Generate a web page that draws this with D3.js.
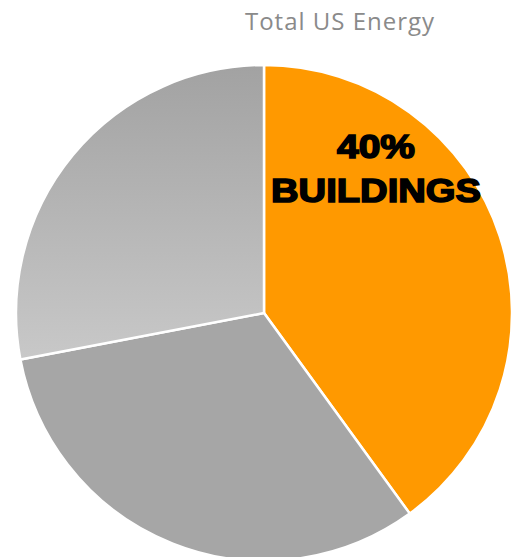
<!DOCTYPE html>
<html>
<head>
<meta charset="utf-8">
<script src="https://cdn.jsdelivr.net/npm/d3@7"></script>
<style>
  body { margin: 0; background: #fff; }
</style>
</head>
<body>
<div id="graphic"></div>
<script>
// sectors of total US energy use, in percent
var categories = ["Buildings", "Transportation", "Industry"];
var shares = [40, 32, 28];
var labelLines = ["40%", "BUILDINGS"];
var title = "Total US Energy";

var width = 513, height = 557;
var cx = 264, cy = 313, radius = 248;

var svg = d3.select("#graphic").append("svg")
        .attr("width", width)
        .attr("height", height);

// gradient lives in the translated pie group's coordinates
var defs = svg.append("defs");
var grad = defs.append("linearGradient")
        .attr("id", "grad-light")
        .attr("gradientUnits", "userSpaceOnUse")
        .attr("x1", 0).attr("y1", -radius)
        .attr("x2", 0).attr("y2", 45);
grad.append("stop").attr("offset", "0%").attr("stop-color", "#a2a2a2");
grad.append("stop").attr("offset", "100%").attr("stop-color", "#c8c8c8");

var fills = ["#ff9900", "#a6a6a6", "url(#grad-light)"];

var pie = d3.pie().sort(null).value(function(d) { return d; });
var arc = d3.arc().innerRadius(0).outerRadius(radius);

var g = svg.append("g")
        .attr("transform", "translate(" + cx + "," + cy + ")");

g.selectAll("path")
        .data(pie(shares))
        .enter().append("path")
        .attr("d", arc)
        .style("fill", function(d, i) { return fills[i]; })
        .style("stroke", "#ffffff")
        .style("stroke-width", 2.5);

// title
svg.append("text")
        .attr("x", 340)
        .attr("y", 30)
        .attr("text-anchor", "middle")
        .style("font-family", "'Open Sans', sans-serif")
        .style("font-size", "24px")
        .style("letter-spacing", "1px")
        .style("fill", "#8a8a8a")
        .text(title);

// slice label
var lbl = svg.append("text")
        .attr("text-anchor", "middle")
        .style("font-family", "'Liberation Sans', Arial, sans-serif")
        .style("font-weight", "bold")
        .style("font-size", "34px")
        .style("fill", "#000")
        .style("stroke", "#000")
        .style("stroke-width", 1.6);

lbl.selectAll("tspan")
        .data(labelLines)
        .enter().append("tspan")
        .attr("x", 376)
        .attr("y", function(d, i) { return i === 0 ? 158 : 202; })
        .attr("textLength", function(d, i) { return i === 0 ? 78 : 210; })
        .attr("lengthAdjust", "spacingAndGlyphs")
        .text(function(d) { return d; });
</script>
</body>
</html>
